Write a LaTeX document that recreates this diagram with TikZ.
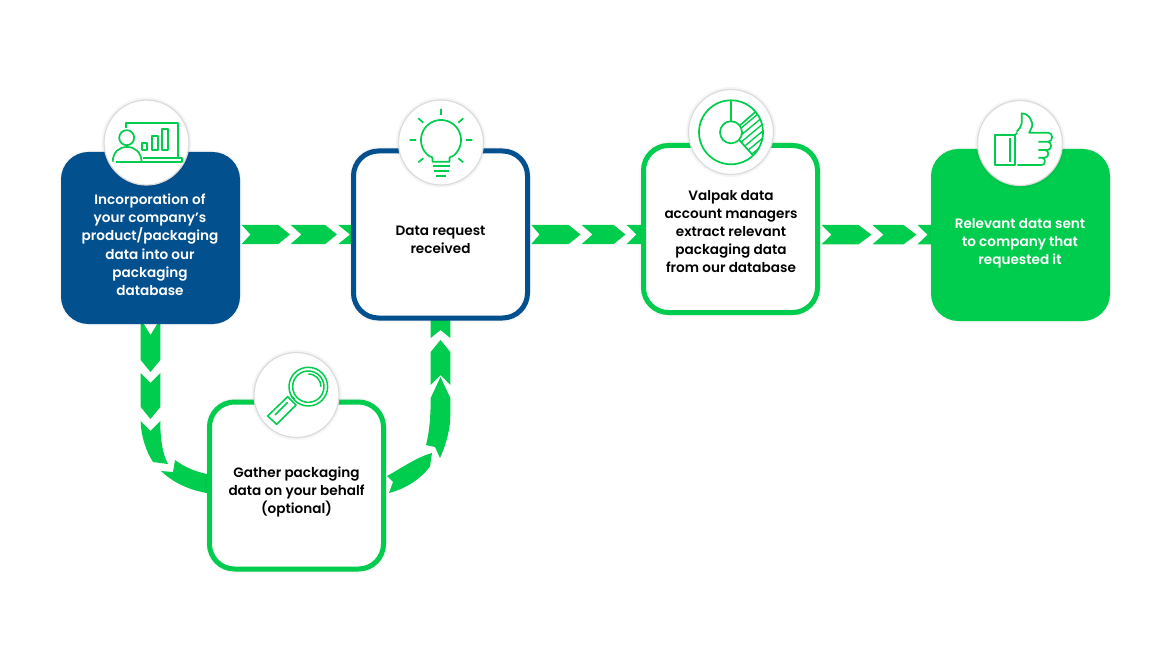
\documentclass[tikz,border=0pt]{standalone}
\usepackage{fontspec}
\setmainfont{Poppins SemiBold}
\usetikzlibrary{calc}
\definecolor{vgreen}{RGB}{0,204,78}
\definecolor{vblue}{RGB}{3,80,143}
\newcommand{\chevh}[5]{\fill[vgreen] (#1,#5-9.7)--(#3,#5-9.7)--(#4,#5)--(#3,#5+9.7)--(#1,#5+9.7)--(#2,#5)--cycle;}
\newcommand{\chevv}[4]{\fill[vgreen] (-9.8,#1)--(-9.8,#3)--(0,#4)--(9.8,#3)--(9.8,#1)--(0,#2)--cycle;}
\tikzset{
  softshadow/.style={preaction={draw=black,draw opacity=.03,line width=8pt},preaction={draw=black,draw opacity=.04,line width=5pt}},
  stepbox/.style={rectangle,rounded corners=25pt,minimum width=174pt,minimum height=167pt,line width=5pt,fill=white,inner sep=0pt,softshadow},
  iconcircle/.style={circle,minimum size=85pt,inner sep=0pt,fill=white,draw=black!14,line width=1.2pt,preaction={draw=black,draw opacity=.04,line width=5pt}},
  steptext/.style={align=center,font=\fontsize{13.6}{18.2}\selectfont,inner sep=0pt},
  icon/.style={draw=vgreen,line width=1.7pt,line join=round}
}
\begin{document}
\begin{tikzpicture}[x=1pt,y=-1pt]
\useasboundingbox (0,0) rectangle (1165,655);
\fill[white] (0,0) rectangle (1165,655);
\coordinate (bluepos) at (150.5,238);
\coordinate (reqpos) at (440.5,234.5);
\coordinate (valpos) at (730.5,229);
\coordinate (relpos) at (1020.5,235);
\coordinate (gatpos) at (296.5,485.5);
% connectors drawn first, boxes over them
\begin{scope}[shift={($(bluepos)+(90,0)$)}]
 \chevh{1}{10}{37.5}{49.5}{-3.5}\chevh{50}{61}{84.5}{96.5}{-3.5}\chevh{97.5}{109.5}{116}{116}{-3.5}
\end{scope}
\begin{scope}[shift={($(reqpos)+(90,0)$)}]
 \chevh{.7}{9}{38}{50}{0}\chevh{51}{62}{83}{95}{0}\chevh{96}{106}{116}{116}{0}
\end{scope}
\begin{scope}[shift={($(valpos)+(90,0)$)}]
 \chevh{1}{11}{38}{51}{5.7}\chevh{52}{63}{83}{96}{5.7}\chevh{97}{107}{116}{116}{5.7}
\end{scope}
\begin{scope}[shift={($(bluepos)+(0,86)$)}]
 \chevv{-5}{11}{36}{48}\chevv{49}{59}{83}{95}
 \fill[vgreen] (-9.8,97)--(0,107)--(9.8,97) .. controls (9.8,115) and (12,130) .. (17.5,140)--(2.5,138) .. controls (-4,128) and (-9.8,112) .. cycle;
\end{scope}
\begin{scope}[shift={($(gatpos)+(-89.5,0)$)}]
 \fill[vgreen] (-46,-14.5)--(-34,-13.5)--(-32,-25.5) .. controls (-22,-18) and (-10,-13) .. (5,-10.5)--(5,8.5) .. controls (-18,5) and (-34,-3) .. cycle;
\end{scope}
\begin{scope}[shift={($(reqpos)+(0,85.5)$)}]
 \chevv{18}{10}{-5}{-5}\chevv{65}{55}{32}{20}
 \fill[vgreen] (0,57)--(9.8,78)--(9.8,95) .. controls (9.8,112) and (4,128) .. (-0.5,138)--(-5.5,127)--(-14.5,125) .. controls (-11,112) and (-9.8,95) .. (-9.8,78)--cycle;
\end{scope}
\begin{scope}[shift={($(gatpos)+(89.5,0)$)}]
 \fill[vgreen] (46,-32.5) .. controls (30,-28) and (15,-17) .. (1,-9.5)--(7,-3.5)--(3,7.5) .. controls (20,3) and (34,-6) .. (44,-19)--cycle;
\end{scope}
% boxes
\node[stepbox,draw=vblue,fill=vblue] (blue) at (bluepos) {};
\node[stepbox,draw=vblue] (req) at (reqpos) {};
\node[stepbox,draw=vgreen] (val) at (valpos) {};
\node[stepbox,draw=vgreen,fill=vgreen] (rel) at (relpos) {};
\node[stepbox,draw=vgreen] (gat) at (gatpos) {};
% texts
\node[steptext,text=white] (bluetext) at (150,244.8) {Incorporation of\\your company's\\product/packaging\\data into our\\packaging\\database};
\node[steptext,text=black] (reqtext) at (440.5,239.5) {Data request\\received};
\node[steptext,text=black,font=\fontsize{13.6}{17.8}\selectfont] (valtext) at (731,231.5) {Valpak data\\account managers\\extract relevant\\packaging data\\from our database};
\node[steptext,text=white] (reltext) at (1020,243) {Relevant data sent\\to company that\\requested it};
\node[steptext,text=black] (gattext) at (296.5,492) {Gather packaging\\data on your behalf\\(optional)};
% circles
\node[iconcircle] (c1) at (146.5,142.5) {};
\node[iconcircle] (c2) at (441,142.5) {};
\node[iconcircle] (c3) at (731,132) {};
\node[iconcircle] (c4) at (1020,143) {};
\node[iconcircle] (c5) at (296.5,395) {};
% icon: presenter
\draw[icon] (125.7,128)--(125.7,123.3)--(178.3,123.3)--(178.3,158.3);
\draw[icon] (143,158.3)--(181.7,158.3)--(181.7,161.7)--(116,161.7);
\draw[icon] (141.7,142.7) rectangle (146.7,150);
\draw[icon] (152.3,135.7) rectangle (157.7,150);
\draw[icon] (162.3,129) rectangle (167.7,150);
\draw[icon] (126.7,137.7) circle (7.5);
\draw[icon] (112.7,161.7) .. controls (113,152) and (119,147) .. (127,147) .. controls (135,147) and (141,152) .. (141.7,161.7);
% icon: bulb
\draw[icon] (432.5,161.7)--(432.5,158) .. controls (432.5,157) and (431,156.5) .. (429.5,156.4) -- plot[domain=125:415,samples=50] ({441+20*cos(\x)},{140+20*sin(\x)}) .. controls (451,156.5) and (449.5,157) .. (449.5,158)--(449.5,161.7)--cycle;
\draw[icon] (432.5,166)--(449.5,166) (433.5,171)--(448.5,171) (436,176)--(446,176);
\draw[icon] (441,109)--(441,115) (409.5,140)--(416,140) (466,140)--(472.3,140)
 (418.3,118.3)--(423.3,122.7) (463.3,118.3)--(458.3,122.7) (418.3,162.3)--(423.3,158.3) (463.3,162.3)--(458.3,158.3);
% icon: donut chart
\begin{scope}
 \clip (731,132.3) circle (32);
 \clip (731,132.3) -- ($(731,132.3)+(48,-40)$) -- ($(731,132.3)+(60,-40)$) -- ($(731,132.3)+(60,60)$) -- ($(731,132.3)+(50,52)$) -- cycle;
 \foreach \k in {-8,...,8}{\draw[vgreen,line width=1.4pt] ($(752,133)+(0,\k*7)+(-30,25)$) -- ($(752,133)+(0,\k*7)+(30,-25)$);}
\end{scope}
\fill[white] (731,132.3) circle (11);
\draw[icon] (731,132.3) circle (32) (731,132.3) circle (11);
\draw[icon] (731,121.3)--(731,100.3);
\draw[icon] ($(731,132.3)+(9,-7)$)--($(731,132.3)+(24.5,-20.5)$);
\draw[icon] ($(731,132.3)+(8,7.5)$)--($(731,132.3)+(22,23)$);
% icon: thumb
\begin{scope}[shift={(960,90)},x=.3333pt,y=-.3333pt]
 \draw[icon] (105,135) rectangle (165,225);
 \draw[icon] (150,145)--(150,215);
 \draw[icon] (172,225)--(245,225) .. controls (258,225) and (258,203) .. (245,203)--(235,203) (235,203)--(255,203) .. controls (268,203) and (268,180) .. (255,180)--(235,180) (255,180)--(262,180) .. controls (277,180) and (277,155) .. (262,155)--(235,155) (262,155)--(265,155) .. controls (280,155) and (280,128) .. (265,128)--(207,128) .. controls (215,115) and (220,105) .. (215,95) .. controls (210,80) and (200,70) .. (185,70)--(185,100) .. controls (183,110) and (178,118) .. (170,125);
 \draw[icon] (165,135)--(172,128);
\end{scope}
% icon: magnifier
\begin{scope}[shift={(245,345)},x=.3333pt,y=-.3333pt]
 \draw[icon,line width=1.5pt] (190,125) circle (58) (190,125) circle (47);
 \draw[icon,line width=1.5pt] (190,87) .. controls (212,87) and (228,105) .. (228,125);
 \draw[icon,line width=1.5pt] (128,155)--(153,180)--(95,238)--(68,213)--cycle;
 \draw[icon,line width=1.5pt] (138,152)--(150,163) (90,210)--(128,172);
\end{scope}
\end{tikzpicture}
\end{document}
